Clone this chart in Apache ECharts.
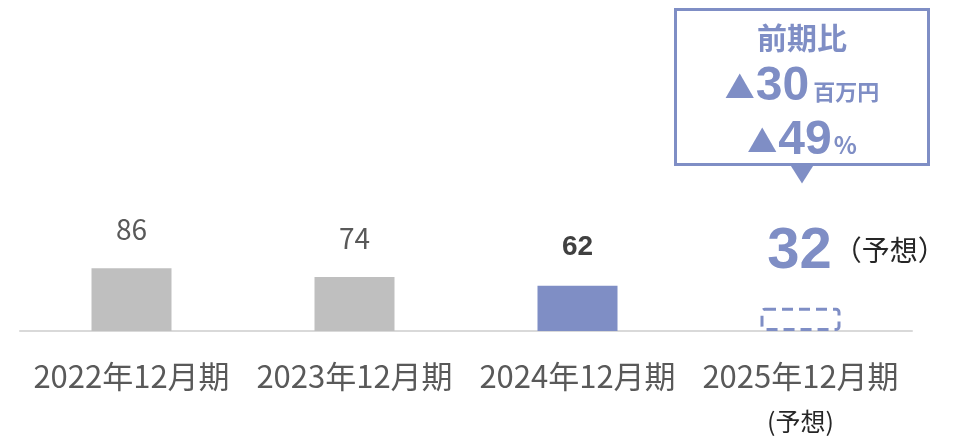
<!DOCTYPE html>
<html lang="ja">
<head>
<meta charset="UTF-8">
<title>業績推移</title>
<script src="https://cdn.jsdelivr.net/npm/echarts@6/dist/echarts.min.js"></script>
<style>
  html, body { margin: 0; padding: 0; background: #fff; }
  #main { width: 956px; height: 439px; }
</style>
</head>
<body>
<div id="main"></div>
<script>
// data
var periods = ['2022年12月期', '2023年12月期', '2024年12月期', '2025年12月期'];
var values = [86, 74, 62, 32];
var forecastIndex = 3;
var diffAmount = 30;   // 前期比 百万円
var diffRate = 49;     // 前期比 %

var gray = '#bfbfbf';
var blue = '#7f8ec5';
var fontJP = '"Noto Sans CJK JP", "Noto Sans", sans-serif';
var fontNum = '"Liberation Sans", Arial, sans-serif';

var chart = echarts.init(document.getElementById('main'));

var barData = values.map(function (v, i) {
    if (i === 0 || i === 1) {
        return {
            value: v,
            itemStyle: { color: gray },
            label: { fontSize: 28, color: '#595959', fontWeight: 'normal', distance: 25 }
        };
    }
    if (i === 2) {
        return {
            value: v,
            itemStyle: { color: blue },
            label: { fontSize: 28, color: '#404040', fontWeight: 'bold', fontFamily: fontNum, distance: 24 }
        };
    }
    return {
        value: v,
        itemStyle: {
            color: 'rgba(0,0,0,0)',
            borderColor: blue,
            borderWidth: 3,
            borderType: [11, 6],
            borderRadius: 3
        },
        label: {
            formatter: '{v|' + v + '}{s|（予想）}',
            offset: [56, 0],
            distance: 27,
            rich: {
                v: { fontSize: 58, fontWeight: 'bold', color: blue, fontFamily: fontNum },
                s: { fontSize: 28, color: '#262626', fontFamily: fontJP, padding: [0, 0, 2, 2] }
            }
        }
    };
});

var option = {
    backgroundColor: '#ffffff',
    animation: false,
    grid: { left: 20, right: 44, top: 39, bottom: 108 },
    xAxis: {
        type: 'category',
        data: periods,
        axisLine: { show: true, lineStyle: { color: '#d9d9d9', width: 2 } },
        axisTick: { show: false },
        axisLabel: {
            margin: 30,
            fontSize: 31,
            color: '#595959',
            fontFamily: fontJP,
            interval: 0,
            formatter: function (val, idx) {
                if (idx === forecastIndex) return val + '\n{f|(予想)}';
                return val;
            },
            rich: {
                f: { fontSize: 25, color: '#262626', fontFamily: fontJP, padding: [17, 0, 0, 0] }
            }
        }
    },
    yAxis: {
        type: 'value',
        min: 0,
        max: 400,
        show: false,
        splitLine: { show: false }
    },
    series: [{
        type: 'bar',
        barWidth: 80,
        data: barData,
        label: {
            show: true,
            position: 'top',
            fontFamily: fontJP
        }
    }]
};

chart.setOption(option);

// 前期比 callout above the forecast bar
var cx = chart.convertToPixel({ xAxisIndex: 0 }, forecastIndex);
var boxW = 253, boxTop = 8, boxH = 155;
chart.setOption({
    graphic: [{
        type: 'group',
        left: cx - boxW / 2,
        top: boxTop,
        children: [
            {
                type: 'rect',
                shape: { x: 0, y: 0, width: boxW, height: boxH },
                style: { fill: '#fff', stroke: blue, lineWidth: 3 }
            },
            {
                type: 'polygon',
                shape: { points: [[boxW / 2 - 12, boxH], [boxW / 2 + 12, boxH], [boxW / 2, boxH + 19]] },
                style: { fill: blue }
            },
            {
                type: 'text',
                x: boxW / 2, y: 28,
                style: {
                    text: '前期比',
                    fill: blue, font: 'bold 30px ' + fontJP,
                    align: 'center', verticalAlign: 'middle'
                }
            },
            {
                type: 'text',
                x: boxW / 2, y: 77,
                style: {
                    text: '{t|▲}{n|' + diffAmount + '}{u|百万円}',
                    align: 'center', verticalAlign: 'middle',
                    rich: {
                        t: { fill: blue, fontSize: 30, fontFamily: fontJP, padding: [0, 1, 0, 0] },
                        n: { fill: blue, fontSize: 48, fontWeight: 'bold', fontFamily: fontNum },
                        u: { fill: blue, fontSize: 22, fontWeight: 'bold', fontFamily: fontJP, padding: [10, 0, 0, 4] }
                    }
                }
            },
            {
                type: 'text',
                x: boxW / 2, y: 131,
                style: {
                    text: '{t|▲}{n|' + diffRate + '}{u|%}',
                    align: 'center', verticalAlign: 'middle',
                    rich: {
                        t: { fill: blue, fontSize: 30, fontFamily: fontJP, padding: [0, 1, 0, 0] },
                        n: { fill: blue, fontSize: 48, fontWeight: 'bold', fontFamily: fontNum },
                        u: { fill: blue, fontSize: 24, fontWeight: 'bold', fontFamily: fontJP, padding: [8, 0, 0, 2] }
                    }
                }
            }
        ]
    }]
});

window.onresize = function () {
    chart.resize();
};
</script>
</body>
</html>
